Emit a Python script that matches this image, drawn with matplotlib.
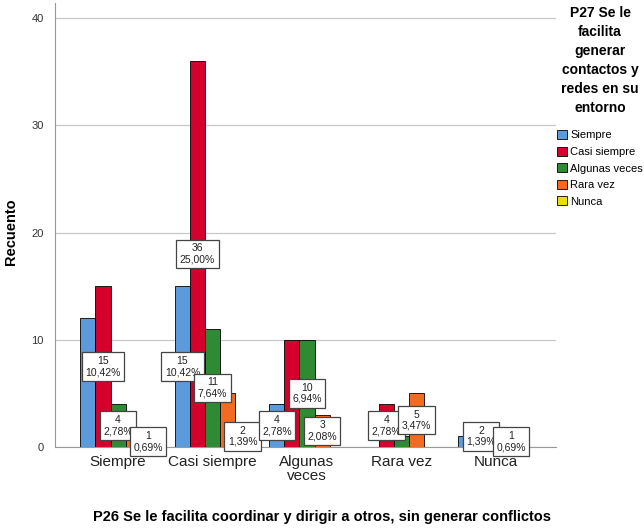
import numpy as np
import matplotlib.pyplot as plt

# categories of P26 (x axis) and series of P27 (legend)
categories = ['Siempre', 'Casi siempre', 'Algunas\nveces', 'Rara vez', 'Nunca']
series_names = ['Siempre', 'Casi siempre', 'Algunas veces', 'Rara vez', 'Nunca']

# counts per series, one value per x category
siempre = [12, 15, 4, 0, 1]
casi_siempre = [15, 36, 10, 4, 2]
algunas_veces = [4, 11, 10, 1, 0]
rara_vez = [1, 5, 3, 5, 1]
nunca = [1, 2, 0, 0, 0]
total = 144

# which bar labels are visible in the original (others hidden by spss)
show_siempre = [False, True, True, False, False]
show_casi = [True, True, False, True, True]
show_algunas = [True, True, True, False, False]
show_rara = [False, False, True, True, True]
show_nunca = [True, True, False, False, False]

colors = ['#5b9bdc', '#d6002c', '#2e8b34', '#f26b21', '#ecdc00']
fam = ['Liberation Sans', 'DejaVu Sans']

data = [siempre, casi_siempre, algunas_veces, rara_vez, nunca]
shows = [show_siempre, show_casi, show_algunas, show_rara, show_nunca]

plt.rcParams['font.family'] = fam

fig = plt.figure(figsize=(6.44, 5.29), dpi=100)
ax = fig.add_axes([55/644, 1-447/529, 501/644, 444/529])

x = np.arange(len(categories))
w = 0.159
for i, vals in enumerate(data):
    ax.bar(x + (i - 2) * w, vals, w, color=colors[i], edgecolor='black',
           linewidth=0.6, zorder=2, label=series_names[i])

# value labels, centered in the bar
for j in range(len(categories)):
    for i, vals in enumerate(data):
        if shows[i][j] and vals[j] > 0:
            pct = f"{vals[j] / total * 100:.2f}".replace('.', ',')
            ax.text(x[j] + (i - 2) * w, vals[j] / 2, f"{vals[j]}\n{pct}%",
                    ha='center', va='center', fontsize=7.5, color='#222222',
                    linespacing=1.15, zorder=5,
                    bbox=dict(boxstyle='square,pad=0.35', fc='white', ec='#444444', lw=0.9))

ax.set_xlim(-0.667, 4.635)
ax.set_ylim(0, 41.4)
ax.set_yticks([0, 10, 20, 30, 40])
ax.yaxis.grid(True, color='#c8c8c8', linewidth=0.9, zorder=0)
ax.set_axisbelow(True)
ax.set_xticks(x)
ax.set_xticklabels(categories, fontsize=11, color='#222222', linespacing=1.0)
ax.tick_params(axis='both', length=0)
ax.tick_params(axis='y', labelsize=8, colors='#333333', pad=8)
ax.tick_params(axis='x', pad=6)
for s in ['top', 'right']:
    ax.spines[s].set_visible(False)
ax.spines['left'].set_color('#999999')
ax.spines['bottom'].set_color('#999999')

ax.set_ylabel('Recuento', fontsize=10.5, fontweight='bold')
ax.yaxis.set_label_coords((18 - 55) / 501, (447 - 232) / 444)
fig.text(322/644, 1-517/529, 'P26 Se le facilita coordinar y dirigir a otros, sin generar conflictos',
         ha='center', va='center', fontsize=10.5, fontweight='bold')

# legend title and entries
fig.text(600/644, 1-6/529, 'P27 Se le\nfacilita\ngenerar\ncontactos y\nredes en su\nentorno',
         ha='center', va='top', fontsize=10, fontweight='bold', linespacing=1.45)
leg = ax.legend(loc='upper left', bbox_to_anchor=(557/644, 1-130/529),
                bbox_transform=fig.transFigure, frameon=False,
                handlelength=0.9, handleheight=0.9, handletextpad=0.3,
                labelspacing=0.55, borderaxespad=0, borderpad=0,
                prop={'size': 8})

plt.savefig('out.png', dpi=100)
